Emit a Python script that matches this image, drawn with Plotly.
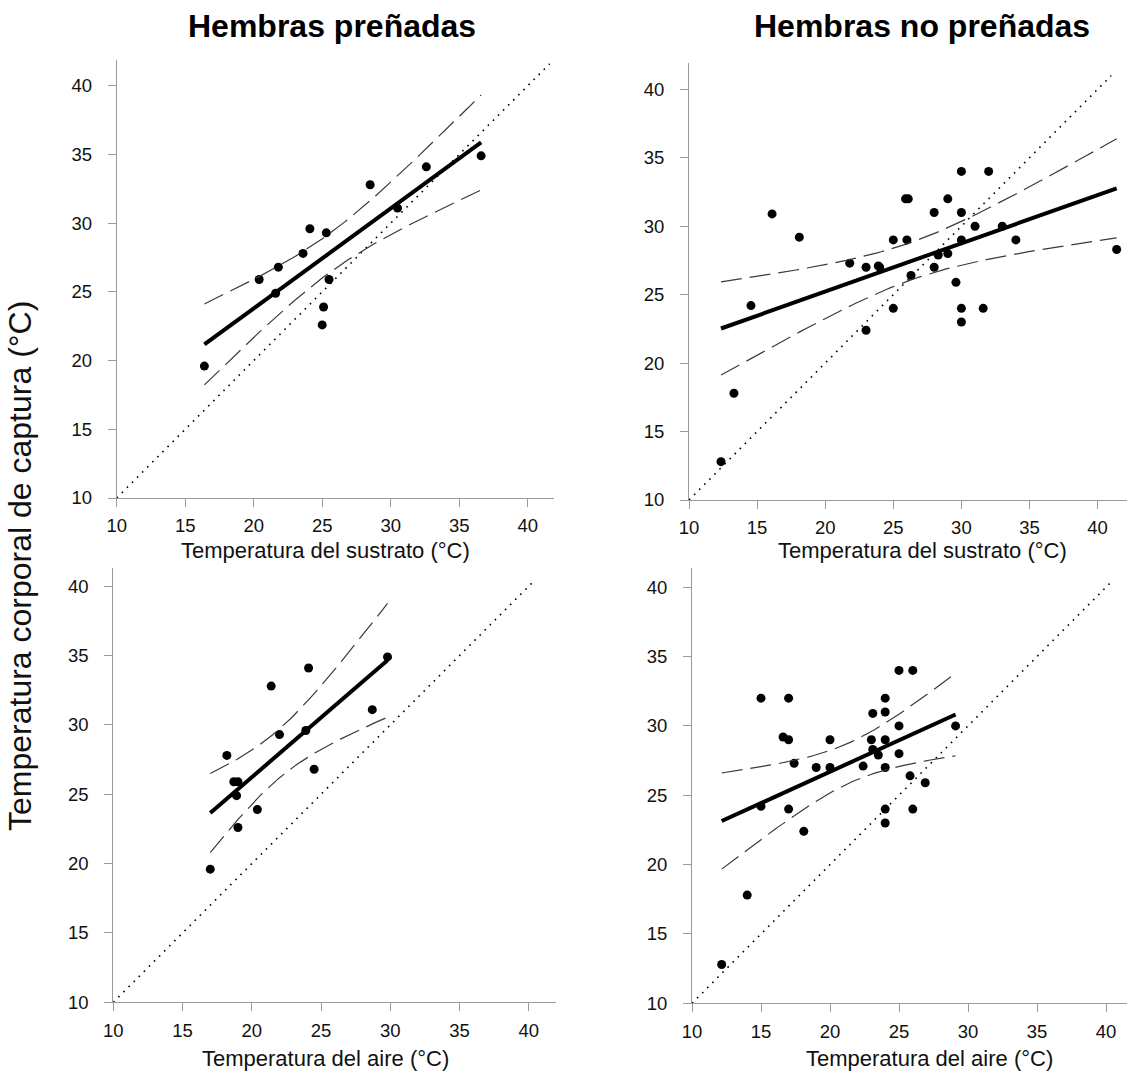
import numpy as np
import plotly.graph_objects as go

# Body temperature at capture vs. substrate / air temperature (°C)
preg_sub_x = [16.4, 20.4, 21.8, 21.6, 23.6, 24.1, 25.3, 25.5, 25.1, 25.0, 28.5, 30.5, 32.6, 36.6]
preg_sub_y = [19.6, 25.9, 26.8, 24.9, 27.8, 29.6, 29.3, 25.9, 23.9, 22.6, 32.8, 31.1, 34.1, 34.9]

nopreg_sub_x = [12.35, 13.3, 14.55, 16.1, 18.1, 21.8, 23.0, 23.0, 23.9, 24.0, 25.0, 25.0, 26.0,
                25.9, 26.1, 26.3, 28.0, 28.0, 28.3, 29.0, 29.0, 29.6, 30.0, 30.0, 30.0, 30.0,
                30.0, 31.0, 31.6, 32.0, 33.0, 34.0, 41.4]
nopreg_sub_y = [12.8, 17.8, 24.2, 30.9, 29.2, 27.3, 27.0, 22.4, 27.1, 27.0, 29.0, 24.0, 29.0,
                32.0, 32.0, 26.4, 31.0, 27.0, 27.9, 28.0, 32.0, 25.9, 34.0, 31.0, 29.0, 24.0,
                23.0, 30.0, 24.0, 34.0, 30.0, 29.0, 28.3]

preg_air_x = [17.0, 18.2, 18.7, 19.0, 18.9, 19.0, 20.4, 21.4, 22.0, 23.9, 24.1, 24.5, 28.7, 29.8]
preg_air_y = [19.6, 27.8, 25.9, 25.9, 24.9, 22.6, 23.9, 32.8, 29.3, 29.6, 34.1, 26.8, 31.1, 34.9]

nopreg_air_x = [12.15, 14.0, 15.0, 15.0, 16.6, 17.0, 17.0, 17.0, 17.4, 18.1, 19.0, 20.0, 20.0,
                22.4, 23.0, 23.1, 23.1, 23.5, 24.0, 24.0, 24.0, 24.0, 24.0, 24.0, 25.0, 25.0,
                25.0, 25.8, 26.0, 26.0, 26.9, 29.1]
nopreg_air_y = [12.8, 17.8, 32.0, 24.2, 29.2, 32.0, 29.0, 24.0, 27.3, 22.4, 27.0, 29.0, 27.0,
                27.1, 29.0, 30.9, 28.3, 27.9, 32.0, 31.0, 29.0, 27.0, 24.0, 23.0, 34.0, 30.0,
                28.0, 26.4, 34.0, 24.0, 25.9, 30.0]

col_titles = ["Hembras preñadas", "Hembras no preñadas"]
x_titles = ["Temperatura del sustrato (°C)", "Temperatura del sustrato (°C)",
            "Temperatura del aire (°C)", "Temperatura del aire (°C)"]
y_title = "Temperatura corporal de captura (°C)"
tick_vals = [10, 15, 20, 25, 30, 35, 40]

# two-sided 95% Student t critical values by degrees of freedom
T95 = {12: 2.179, 30: 2.042, 31: 2.040}

W, H = 1127, 1071
FONT = "Liberation Sans, Arial, sans-serif"
AXIS_GREY = "#9a9a9a"

# panel frames in pixels: x origin, px per unit, right edge; y origin, px per unit, top edge
panels = [
    dict(x=preg_sub_x, y=preg_sub_y, px0=116.7, sx=13.70, px1=554, py0=498.0, sy=13.74, py1=60, diag=41.6),
    dict(x=nopreg_sub_x, y=nopreg_sub_y, px0=689.0, sx=13.62, px1=1127, py0=500.0, sy=13.69, py1=63, diag=41.0),
    dict(x=preg_air_x, y=preg_air_y, px0=113.3, sx=13.85, px1=556, py0=1002.3, sy=13.87, py1=568, diag=40.4),
    dict(x=nopreg_air_x, y=nopreg_air_y, px0=692.0, sx=13.80, px1=1127, py0=1003.3, sy=13.87, py1=568, diag=40.5),
]


def linear_fit(xs, ys):
    xs = np.asarray(xs, float)
    ys = np.asarray(ys, float)
    n = len(xs)
    xbar = xs.mean()
    sxx = ((xs - xbar) ** 2).sum()
    b = ((xs - xbar) * (ys - ys.mean())).sum() / sxx
    a = ys.mean() - b * xbar
    resid = ys - (a + b * xs)
    s = np.sqrt((resid ** 2).sum() / (n - 2))
    grid = np.linspace(xs.min(), xs.max(), 80)
    fit = a + b * grid
    half = T95[n - 2] * s * np.sqrt(1.0 / n + (grid - xbar) ** 2 / sxx)
    return grid, fit, fit - half, fit + half


fig = go.Figure()
layout_axes = {}

for i, p in enumerate(panels):
    s = "" if i == 0 else str(i + 1)
    xa, ya = "x" + s, "y" + s
    grid, fit, lo, hi = linear_fit(p["x"], p["y"])
    diag = [10, p["diag"]]

    fig.add_trace(go.Scatter(x=diag, y=diag, mode="lines", xaxis=xa, yaxis=ya,
                             line=dict(color="black", width=1.6, dash="1.6px,5.6px")))
    fig.add_trace(go.Scatter(x=p["x"], y=p["y"], mode="markers", xaxis=xa, yaxis=ya,
                             marker=dict(color="black", size=9, line=dict(width=0))))
    for band in (lo, hi):
        fig.add_trace(go.Scatter(x=grid, y=band, mode="lines", xaxis=xa, yaxis=ya,
                                 line=dict(color="#3a3a3a", width=1.2, dash="21px,8px")))
    fig.add_trace(go.Scatter(x=grid, y=fit, mode="lines", xaxis=xa, yaxis=ya,
                             line=dict(color="black", width=4)))

    x_end = 10 + (p["px1"] - p["px0"]) / p["sx"]
    y_end = 10 + (p["py0"] - p["py1"]) / p["sy"]
    common = dict(tickvals=tick_vals, ticks="outside", ticklen=8, tickwidth=1,
                  tickcolor=AXIS_GREY, showline=True, linecolor=AXIS_GREY, linewidth=1,
                  showgrid=False, zeroline=False, automargin=False,
                  tickfont=dict(family=FONT, size=18.5, color="#111"))
    layout_axes["xaxis" + s] = dict(domain=[p["px0"] / W, p["px1"] / W], range=[10, x_end],
                                    anchor=ya, ticklabelstandoff=3, **common)
    layout_axes["yaxis" + s] = dict(domain=[1 - p["py0"] / H, 1 - p["py1"] / H],
                                    range=[10, y_end], anchor=xa, ticklabelstandoff=12, **common)

annotations = []
for cx, txt in zip([332, 921.5], col_titles):
    annotations.append(dict(text="<b>%s</b>" % txt, x=cx / W, y=1 - 26 / H, xref="paper",
                            yref="paper", xanchor="center", yanchor="middle", showarrow=False,
                            font=dict(family=FONT, size=32, color="black")))
for (cx, cy), txt in zip([(325, 550), (922, 550), (325, 1058), (929, 1058)], x_titles):
    annotations.append(dict(text=txt, x=cx / W, y=1 - cy / H, xref="paper", yref="paper",
                            xanchor="center", yanchor="middle", showarrow=False,
                            font=dict(family=FONT, size=22, color="#111")))
annotations.append(dict(text=y_title, x=20 / W, y=1 - 566 / H, xref="paper", yref="paper",
                        xanchor="center", yanchor="middle", textangle=-90, showarrow=False,
                        font=dict(family=FONT, size=32, color="#111")))

fig.update_layout(width=W, height=H, autosize=False, margin=dict(l=0, r=0, t=0, b=0),
                  paper_bgcolor="white", plot_bgcolor="white", showlegend=False,
                  annotations=annotations, **layout_axes)

fig.write_html("out.html")
